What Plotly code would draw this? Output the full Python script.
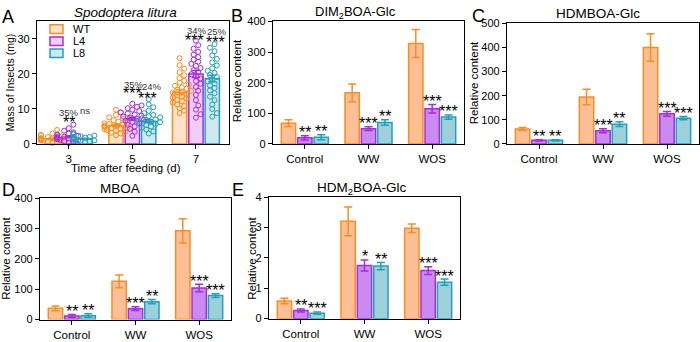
import plotly.graph_objects as go

# ---------------- data ----------------
genotypes = ["WT", "L4", "L8"]
edge_colors = ["#F98E1E", "#A92BDB", "#22A0BA"]
fill_colors = ["#FDC096", "#C98BF0", "#9ED0DB"]
fill_light = ["#FEE2CC", "#EFCFF6", "#CFE8EE"]

# Panel A: mass of insects (mg)
days = ["3", "5", "7"]
massA_mean = {"WT": [1.5, 5.3, 14.8], "L4": [2.0, 7.2, 20.0], "L8": [1.5, 6.5, 18.7]}
massA_sem = {"WT": [0.2, 0.35, 0.7], "L4": [0.25, 0.45, 1.0], "L8": [0.15, 0.4, 0.9]}
pointsA = {
    "WT": [
        [0.3, 0.5, 0.6, 0.8, 0.9, 1.0, 1.1, 1.2, 1.3, 1.4, 1.5, 1.6, 1.7, 1.8, 2.0, 2.2, 2.4, 2.6, 3.0, 4.0],
        [2.5, 3.0, 3.2, 3.5, 3.8, 4.0, 4.2, 4.4, 4.5, 4.7, 4.9, 5.0, 5.2, 5.3, 5.5, 5.7, 5.9, 6.1, 6.4, 6.8, 7.2, 7.6, 8.3, 9.0, 9.8],
        [8.8, 9.5, 10.2, 10.8, 11.3, 11.8, 12.2, 12.6, 13.0, 13.3, 13.6, 14.0, 14.3, 14.6, 14.9, 15.2, 15.5, 15.8, 16.2, 16.6, 17.0, 17.5, 18.0, 18.8, 19.6, 20.5, 21.5, 22.5, 24.5],
    ],
    "L4": [
        [0.3, 0.6, 0.8, 1.0, 1.2, 1.3, 1.5, 1.6, 1.8, 1.9, 2.0, 2.1, 2.3, 2.5, 2.7, 3.0, 3.3, 3.8, 4.5, 5.5],
        [2.3, 3.5, 4.3, 5.0, 5.5, 5.9, 6.3, 6.6, 6.9, 7.2, 7.5, 7.8, 8.1, 8.4, 8.7, 9.0, 9.4, 9.8, 10.2, 10.6, 11.0, 11.5],
        [7.5, 8.5, 9.8, 11.0, 12.5, 14.0, 15.2, 16.3, 17.2, 18.0, 18.7, 19.3, 19.9, 20.5, 21.1, 21.7, 22.3, 22.9, 23.5, 24.1, 24.8, 25.5, 26.3, 27.2, 28.2, 29.5],
    ],
    "L8": [
        [0.5, 0.7, 0.9, 1.0, 1.1, 1.2, 1.3, 1.4, 1.5, 1.6, 1.7, 1.8, 1.9, 2.0, 2.2, 2.4, 2.7, 3.0],
        [3.0, 3.6, 4.1, 4.6, 5.0, 5.4, 5.7, 6.0, 6.2, 6.4, 6.6, 6.8, 7.0, 7.3, 7.6, 7.9, 8.3, 8.8, 9.5, 10.5, 11.3, 12.8],
        [7.8, 8.8, 10.0, 11.3, 12.5, 13.5, 14.5, 15.3, 16.0, 16.7, 17.3, 17.9, 18.5, 19.1, 19.7, 20.3, 20.9, 21.6, 22.4, 23.3, 24.3, 25.3, 26.5, 27.5, 28.5],
    ],
}
A_labels = [  # (x position, y value, text)
    (0.0, 6.9, "**"), (0.0, 9.1, "35%"), (0.257, 9.6, "ns"),
    (1.0, 15.4, "***"), (1.02, 17.1, "35%"), (1.31, 16.3, "24%"), (1.24, 13.8, "***"),
    (1.97, 30.3, "***"), (2.02, 32.5, "34%"), (2.33, 32.0, "25%"), (2.31, 29.8, "***"),
]

treatments = ["Control", "WW", "WOS"]

dim2boa_mean = {"WT": [68, 167, 328], "L4": [20, 50, 115], "L8": [22, 70, 88]}
dim2boa_sem = {"WT": [11, 29, 46], "L4": [7, 6, 14], "L8": [8, 9, 7]}
dim2boa_sig = {"L4": ["**", "***", "***"], "L8": ["**", "**", "***"]}

hdmboa_mean = {"WT": [62, 195, 400], "L4": [15, 55, 125], "L8": [15, 82, 107]}
hdmboa_sem = {"WT": [6, 32, 57], "L4": [3, 8, 10], "L8": [3, 10, 7]}
hdmboa_sig = {"L4": ["**", "***", "***"], "L8": ["**", "**", "***"]}

mboa_mean = {"WT": [37, 126, 292], "L4": [12, 36, 104], "L8": [13, 59, 79]}
mboa_sem = {"WT": [8, 21, 40], "L4": [5, 6, 12], "L8": [6, 7, 6]}
mboa_sig = {"L4": ["**", "***", "***"], "L8": ["**", "**", "***"]}

hdm2boa_mean = {"WT": [0.58, 3.2, 2.97], "L4": [0.27, 1.75, 1.58], "L8": [0.18, 1.73, 1.2]}
hdm2boa_sem = {"WT": [0.09, 0.47, 0.14], "L4": [0.05, 0.18, 0.13], "L8": [0.04, 0.12, 0.1]}
hdm2boa_sig = {"L4": ["**", "*", "***"], "L8": ["***", "**", "***"]}

# ---------------- layout helpers ----------------
W, H = 700, 342
FONT = "Arial, Liberation Sans, sans-serif"
STAR_FONT = "Arial, Liberation Sans, sans-serif"
STAR_SIZE = 16
STAR_SHIFT = -3  # asterisk glyph sits high in the em box
PITCH, BW = 0.257, 0.225

def dx(px0, px1):
    return [px0 / W, px1 / W]

def dy(top, bot):
    return [1 - bot / H, 1 - top / H]

panels = {
    "A": dict(x=dx(37, 229), y=dy(16, 143), xr=[-0.5, 2.52], yr=[0, 35], dt=10),
    "B": dict(x=dx(273, 464), y=dy(16, 143), xr=[-0.5, 2.5], yr=[0, 400], dt=100),
    "C": dict(x=dx(507, 699), y=dy(18, 143), xr=[-0.5, 2.5], yr=[0, 500], dt=100),
    "D": dict(x=dx(40, 231), y=dy(199, 325), xr=[-0.5, 2.5], yr=[0, 400], dt=100),
    "E": dict(x=dx(269, 460), y=dy(198, 324), xr=[-0.5, 2.5], yr=[0, 4], dt=1),
}
axis_ids = {"A": ("x", "y"), "B": ("x2", "y2"), "C": ("x3", "y3"), "D": ("x4", "y4"), "E": ("x5", "y5")}

fig = go.Figure()
annotations = []
shapes = []

def add_bars(key, means, sems, fills):
    xa, ya = axis_ids[key]
    for k, g in enumerate(genotypes):
        xs = [i + (k - 1) * PITCH for i in range(3)]
        fig.add_trace(go.Bar(
            x=xs, y=means[g], width=BW, xaxis=xa, yaxis=ya,
            marker=dict(color=fills[k], line=dict(color=edge_colors[k], width=1.5)),
            error_y=dict(type="data", array=sems[g], color=edge_colors[k], thickness=1.5, width=4),
            showlegend=False, name=g,
        ))

def add_sig(key, means, sems, sig):
    xa, ya = axis_ids[key]
    for k, g in enumerate(genotypes):
        if g not in sig:
            continue
        for i in range(3):
            annotations.append(dict(
                x=i + (k - 1) * PITCH, y=means[g][i] + sems[g][i], xref=xa, yref=ya,
                text=sig[g][i], showarrow=False, yanchor="middle", yshift=6 + STAR_SHIFT,
                font=dict(size=STAR_SIZE, color="black", family=STAR_FONT),
            ))

# Panel A
add_bars("A", massA_mean, massA_sem, fill_light)
# beeswarm placement of points
ppx = (229 - 37) / (2.52 + 0.5)  # px per x unit
ppy = (143 - 16) / 35.0           # px per y unit
diam = 4.6
for k, g in enumerate(genotypes):
    for i in range(3):
        vals = sorted(pointsA[g][i])
        placed = []
        xs_out = []
        for v in vals:
            cands = [0]
            for s in range(1, 6):
                cands += [s * 0.5 * diam, -s * 0.5 * diam]
            chosen = cands[-1]
            for c in cands:
                ok = True
                for (px, pv) in placed:
                    if ((c - px) ** 2 + ((v - pv) * ppy) ** 2) < diam ** 2 * 0.95:
                        ok = False
                        break
                if ok:
                    chosen = c
                    break
            placed.append((chosen, v))
            xs_out.append(i + (k - 1) * PITCH + chosen / ppx)
        fig.add_trace(go.Scatter(
            x=xs_out, y=vals, mode="markers", xaxis="x", yaxis="y",
            marker=dict(symbol="circle-open", size=5, color=edge_colors[k], line=dict(width=1)),
            showlegend=False, cliponaxis=False,
        ))
for (xv, yv, t) in A_labels:
    star = "*" in t
    annotations.append(dict(
        x=xv, y=yv, xref="x", yref="y", text=t, showarrow=False, yanchor="middle",
        yshift=STAR_SHIFT if star else 0,
        font=dict(size=STAR_SIZE if star else 9.5, color="black" if star else "#333333",
                  family=STAR_FONT if star else FONT),
    ))

add_bars("B", dim2boa_mean, dim2boa_sem, fill_colors)
add_sig("B", dim2boa_mean, dim2boa_sem, dim2boa_sig)
add_bars("C", hdmboa_mean, hdmboa_sem, fill_colors)
add_sig("C", hdmboa_mean, hdmboa_sem, hdmboa_sig)
add_bars("D", mboa_mean, mboa_sem, fill_colors)
add_sig("D", mboa_mean, mboa_sem, mboa_sig)
add_bars("E", hdm2boa_mean, hdm2boa_sem, fill_colors)
add_sig("E", hdm2boa_mean, hdm2boa_sem, hdm2boa_sig)

layout = dict(
    width=W, height=H, margin=dict(l=0, r=0, t=0, b=0),
    paper_bgcolor="white", plot_bgcolor="white", barmode="overlay",
    font=dict(family=FONT, color="black"), showlegend=False,
)
for key, p in panels.items():
    xa, ya = axis_ids[key]
    xname = "xaxis" + xa[1:]
    yname = "yaxis" + ya[1:]
    ticktext = days if key == "A" else treatments
    layout[xname] = dict(
        domain=p["x"], range=p["xr"], anchor=ya, showline=True, linecolor="black", linewidth=1.3,
        mirror=True, ticks="outside", ticklen=4, tickwidth=1.3, tickcolor="black",
        tickvals=[0, 1, 2], ticktext=ticktext, tickfont=dict(size=11.5, family=FONT),
        showgrid=False, zeroline=False, fixedrange=True,
    )
    layout[yname] = dict(
        domain=p["y"], range=p["yr"], anchor=xa, showline=True, linecolor="black", linewidth=1.3,
        mirror=True, ticks="outside", ticklen=4, tickwidth=1.3, tickcolor="black",
        dtick=p["dt"], tick0=0, tickfont=dict(size=11, family=FONT),
        showgrid=False, zeroline=False, fixedrange=True,
    )

def paper_text(x, y, text, size, angle=0, **kw):
    annotations.append(dict(x=x / W, y=1 - y / H, xref="paper", yref="paper", text=text,
                            showarrow=False, textangle=angle, xanchor="center", yanchor="middle",
                            font=dict(size=size, family=FONT, color="black"), **kw))

# panel letters
for letter, (lx, ly) in {"A": (8, 11), "B": (237, 10), "C": (478, 10), "D": (8, 191), "E": (238, 191)}.items():
    paper_text(lx, ly, letter, 18)
# titles
paper_text(125, 7, "<i>Spodoptera litura</i>", 13.5)
paper_text(355, 7, "DIM<sub>2</sub>BOA-Glc", 13)
paper_text(598, 8, "HDMBOA-Glc", 13.5)
paper_text(120, 189, "MBOA", 13.5)
paper_text(362, 189, "HDM<sub>2</sub>BOA-Glc", 13.5)
# axis titles
paper_text(10, 80, "Mass of Insects (mg)", 10.5, angle=-90)
paper_text(126, 168, "Time after feeding (d)", 11.5)
paper_text(237, 78, "Relative content", 11.5, angle=-90)
paper_text(474, 80, "Relative content", 11.5, angle=-90)
paper_text(6, 262, "Relative content", 11.5, angle=-90)
paper_text(252, 262, "Relative content", 11.5, angle=-90)

# legend for panel A
for k, g in enumerate(genotypes):
    cy = 24 + k * 12.5
    shapes.append(dict(type="rect", xref="paper", yref="paper",
                       x0=50 / W, x1=63 / W, y0=1 - (cy + 4.5) / H, y1=1 - (cy - 4.5) / H,
                       fillcolor=fill_light[k], line=dict(color=edge_colors[k], width=1.5)))
    annotations.append(dict(x=71 / W, y=1 - cy / H, xref="paper", yref="paper", text=g,
                            showarrow=False, xanchor="left", yanchor="middle",
                            font=dict(size=11, family=FONT, color="black")))

layout["annotations"] = annotations
layout["shapes"] = shapes
fig.update_layout(**layout)
fig.write_html("out.html", config={"displayModeBar": False},
               post_script="document.body.style.margin='0';document.body.style.overflow='hidden';")
